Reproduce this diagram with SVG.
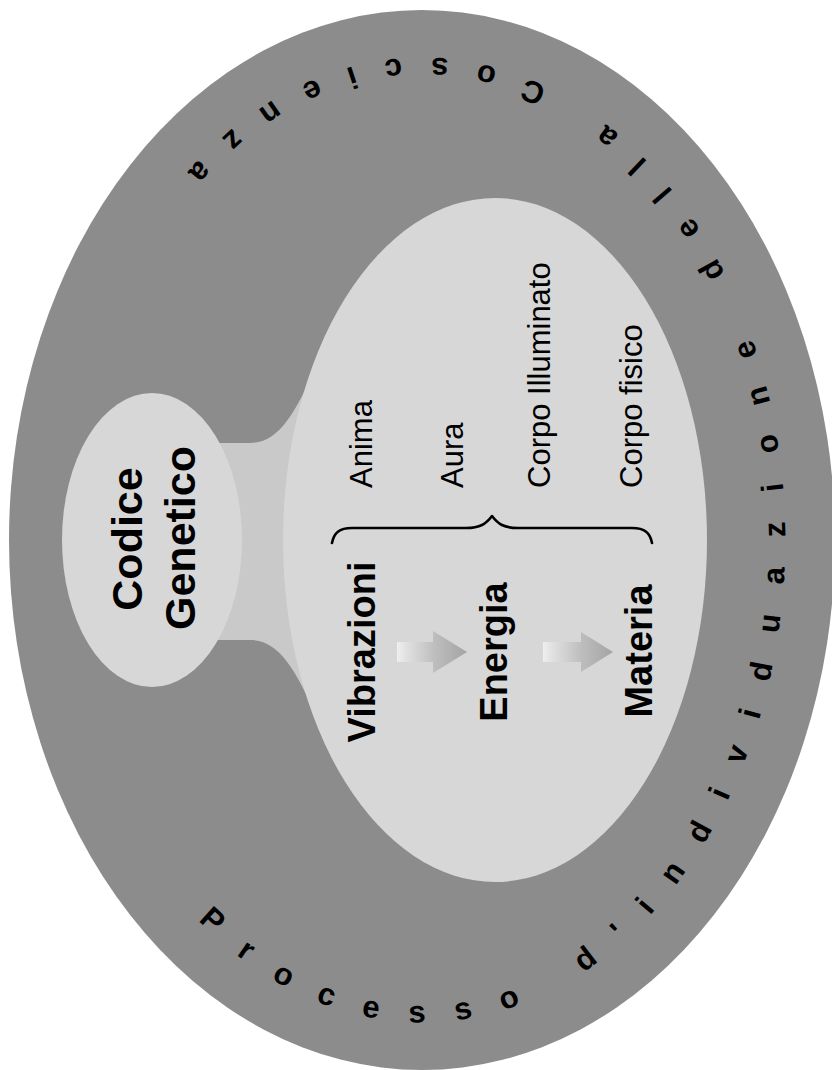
<svg xmlns="http://www.w3.org/2000/svg" width="832" height="1070" viewBox="0 0 832 1070">
<style>
.dark{fill:#8c8c8c}
.light{fill:#d7d7d7}
.neck{fill:#c9c9c9}
.bold{font-family:"Liberation Sans",Arial,sans-serif;font-weight:bold;fill:#000}
.reg{font-family:"Liberation Sans",Arial,sans-serif;font-weight:normal;fill:#000}
.ring{font-family:"Liberation Sans",Arial,sans-serif;font-weight:bold;font-size:31px;letter-spacing:30.6px;fill:#000}
.brace{fill:none;stroke:#000;stroke-width:2.6;stroke-linecap:round;stroke-linejoin:round}
</style>
<defs>
<linearGradient id="arrowGrad" x1="0" y1="0" x2="1" y2="0">
<stop offset="0" stop-color="#efefef"/>
<stop offset="0.12" stop-color="#e2e2e2"/>
<stop offset="0.55" stop-color="#bdbdbd"/>
<stop offset="1" stop-color="#a4a4a4"/>
</linearGradient>
<path id="ringPath" d="M198.5,919.8 A363,482 0 0 0 785,540 A363,482 0 0 0 422,58 A363,482 0 0 0 59,540 A363,482 0 0 0 198.5,919.8"/>
</defs>
<rect width="832" height="1070" fill="#fff"/>

<g id="outer-ring">
<ellipse class="dark" cx="422" cy="540" rx="413" ry="530"/>
<text class="ring"><textPath href="#ringPath" startOffset="0">Processo d'individuazione della Coscienza</textPath></text>
</g>

<g id="neck">
<path class="neck" d="M200,443 L250,443 C278,443 295,415 318,362 L330,362 L330,720 L318,720 C295,667 278,640 250,640 L200,640 Z"/>
</g>

<g id="codice-genetico">
<ellipse class="light" cx="152" cy="540" rx="90" ry="147"/>
<text class="bold" font-size="43" text-anchor="middle" transform="translate(142,539) rotate(-90)">Codice</text>
<text class="bold" font-size="43" text-anchor="middle" transform="translate(195,538) rotate(-90)">Genetico</text>
</g>

<g id="body">
<ellipse class="light" cx="495" cy="540" rx="212" ry="342"/>
</g>

<g id="labels">
<text class="reg" font-size="31" transform="translate(372,488) rotate(-90)">Anima</text>
<text class="reg" font-size="31" transform="translate(463,488) rotate(-90)">Aura</text>
<text class="reg" font-size="31" transform="translate(550,488) rotate(-90)">Corpo Illuminato</text>
<text class="reg" font-size="31" transform="translate(642,488) rotate(-90)">Corpo fisico</text>
</g>

<g id="brace">
<path class="brace" d="M332,543 C334,533 339,528 352,528 L466,528 C480,528 486,524 492,516 C498,524 504,528 518,528 L632,528 C645,528 650,533 652,543"/>
</g>

<g id="vibrazioni"><text class="bold" font-size="38" text-anchor="middle" transform="translate(375,652) rotate(-90)">Vibrazioni</text></g>
<g id="energia"><text class="bold" font-size="38" text-anchor="middle" transform="translate(507,652) rotate(-90)">Energia</text></g>
<g id="materia"><text class="bold" font-size="38" text-anchor="middle" transform="translate(652,651) rotate(-90)">Materia</text></g>

<g id="connectors">
<path fill="url(#arrowGrad)" d="M397,642 L433,642 L433,631 L467,652 L433,673 L433,662 L397,662 Z"/>
<path fill="url(#arrowGrad)" d="M543,642 L581,642 L581,632 L613,652 L581,672 L581,662 L543,662 Z"/>
</g>
</svg>
